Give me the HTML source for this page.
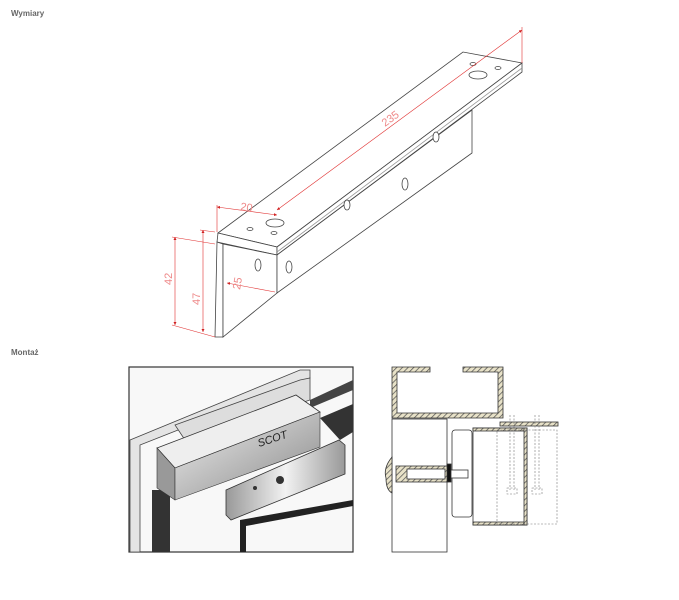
<!DOCTYPE html>
<html><head><meta charset="utf-8"><style>
body{margin:0;background:#fff;width:679px;height:600px;overflow:hidden}
.l{position:absolute;font:bold 8px "Liberation Sans",sans-serif;color:#666}
svg{position:absolute;left:0;top:0}
</style></head><body>
<div class="l" style="left:11px;top:9px">Wymiary</div>
<div class="l" style="left:11px;top:348px">Montaż</div>
<svg width="679" height="600" viewBox="0 0 679 600">
<defs>
<pattern id="h" width="4" height="4" patternUnits="userSpaceOnUse" patternTransform="rotate(45)">
<rect width="4" height="4" fill="#e8e2c8"/><line x1="0" y1="0" x2="0" y2="4" stroke="#555" stroke-width="1.5"/></pattern>
<linearGradient id="g1" x1="0" y1="0" x2="1" y2="1"><stop offset="0" stop-color="#eee"/><stop offset="0.5" stop-color="#bbb"/><stop offset="1" stop-color="#888"/></linearGradient>
<linearGradient id="g2" x1="0" y1="0" x2="1" y2="0"><stop offset="0" stop-color="#999"/><stop offset="0.5" stop-color="#f2f2f2"/><stop offset="1" stop-color="#999"/></linearGradient>
<marker id="a" viewBox="0 0 6 6" refX="6" refY="3" markerWidth="5" markerHeight="5" orient="auto-start-reverse"><path d="M0,0 L6,3 L0,6 Z" fill="#d02020"/></marker>
</defs>
<g fill="#fff" stroke="#444" stroke-width="0.8">
<polygon points="218,233 463,52 522,63 277,247"/>
<polygon points="218,233 277,247 277,255 217,242"/>
<polygon points="277,247 522,63 522,72 277,255"/>
<polygon points="217,242 223,244 223,337 215,337"/>
<polygon points="223,244 277,255 277,293 223,337"/>
<polygon points="277,255 472,110 472,153 277,293"/>
<line x1="277" y1="252" x2="522" y2="68" stroke="#999"/>
<ellipse cx="275" cy="223" rx="9" ry="4"/><ellipse cx="478" cy="75" rx="9" ry="4"/>
<ellipse cx="250" cy="229" rx="3" ry="1.5"/><ellipse cx="274" cy="233" rx="3" ry="1.5"/>
<ellipse cx="473" cy="64" rx="3" ry="1.5"/><ellipse cx="498" cy="68" rx="3" ry="1.5"/>
<ellipse cx="258" cy="265" rx="3" ry="6"/><ellipse cx="289" cy="267" rx="3" ry="6"/>
<ellipse cx="347" cy="205" rx="3" ry="5"/><ellipse cx="405" cy="184" rx="3" ry="6"/><ellipse cx="436" cy="137" rx="3" ry="5"/>
</g>
<g stroke="#e03030" stroke-width="0.6" fill="none">
<line x1="277" y1="210" x2="522" y2="30" marker-start="url(#a)" marker-end="url(#a)"/><line x1="522" y1="27" x2="522" y2="63"/>
<line x1="217" y1="207" x2="277" y2="215" marker-start="url(#a)" marker-end="url(#a)"/><line x1="217" y1="205" x2="217" y2="232"/>
<line x1="227" y1="283" x2="275" y2="292" marker-start="url(#a)"/>
<line x1="175" y1="237" x2="175" y2="325" marker-start="url(#a)" marker-end="url(#a)"/><line x1="203" y1="230" x2="203" y2="332" marker-start="url(#a)" marker-end="url(#a)"/>
<line x1="172" y1="237" x2="215" y2="244"/><line x1="172" y1="325" x2="215" y2="337"/>
<line x1="200" y1="230" x2="215" y2="232"/>
</g>
<g font-family="Liberation Sans,sans-serif" font-size="11" fill="#e88">
<text x="385" y="127" transform="rotate(-36 385 127)">235</text>
<text x="240" y="210" transform="rotate(8 240 210)">20</text>
<text x="240" y="290" transform="rotate(-80 240 290)">25</text>
<text x="172" y="285" transform="rotate(-90 172 285)">42</text>
<text x="200" y="305" transform="rotate(-90 200 305)">47</text>
</g>
<!-- photo -->
<rect x="129" y="367" width="224" height="185" fill="#f8f8f8" stroke="#333" stroke-width="1.2"/>
<polygon points="130,440 300,370 310,370 310,378 140,445 140,552 130,552" fill="#e4e4e4" stroke="#444" stroke-width="0.8"/>
<rect x="152" y="490" width="18" height="62" fill="#333"/>
<polygon points="310,400 353,380 353,390 310,408" fill="#444"/>
<polygon points="320,418 353,404 353,432 340,440" fill="#333"/>
<polygon points="240,552 240,520 353,500 353,506 246,526 246,552" fill="#222"/>
<polygon points="175,425 300,380 310,378 310,400 185,440" fill="#ddd" stroke="#444" stroke-width="0.8"/>
<polygon points="157,448 296,395 320,412 175,468" fill="#eee" stroke="#333" stroke-width="0.8"/>
<polygon points="157,448 175,468 175,500 157,488" fill="#999" stroke="#333" stroke-width="0.6"/>
<polygon points="175,468 320,412 320,447 175,500" fill="url(#g1)" stroke="#333" stroke-width="0.6"/>
<polygon points="226,490 339,440 345,445 345,474 231,520 226,515" fill="url(#g2)" stroke="#333" stroke-width="0.8"/>
<text x="259" y="447" font-family="Liberation Sans,sans-serif" font-size="11" font-style="italic" fill="#222" transform="rotate(-18 259 447)">SCOT</text>
<circle cx="280" cy="480" r="4" fill="#333"/><circle cx="255" cy="488" r="2" fill="#333"/>
<!-- section drawing -->
<g stroke="#333" stroke-width="0.8">
<path d="M392,367 H430 V372 H397 V413 H498 V372 H463 V367 H503 V418 H392 Z" fill="url(#h)"/>
<rect x="392" y="419" width="55" height="133" fill="#fff"/>
<rect x="452" y="430" width="20" height="87" rx="3" fill="#fff"/>
<rect x="473" y="428" width="54" height="97" fill="#fff"/>
<rect x="473" y="428" width="54" height="3" fill="url(#h)"/><rect x="473" y="522" width="54" height="3" fill="url(#h)"/>
<rect x="524" y="428" width="3" height="97" fill="url(#h)"/>
<rect x="500" y="422" width="58" height="4" fill="url(#h)"/>
<rect x="396" y="466" width="52" height="16" fill="url(#h)"/>
<rect x="407" y="469" width="38" height="10" fill="#fff"/>
<path d="M392,457 Q383,468 386,478 Q386,490 392,493 Z" fill="url(#h)"/>
<rect x="448" y="470" width="20" height="8" fill="#fff"/><rect x="447" y="464" width="4" height="18" fill="#111"/>
</g>
<g stroke="#777" stroke-width="0.6" stroke-dasharray="2,1.5" fill="none">
<rect x="497" y="430" width="60" height="94"/><line x1="510" y1="415" x2="510" y2="490"/><line x1="514" y1="415" x2="514" y2="490"/>
<line x1="535" y1="415" x2="535" y2="490"/><line x1="539" y1="415" x2="539" y2="490"/>
<rect x="507" y="488" width="10" height="6"/><rect x="532" y="488" width="10" height="6"/>
</g>
</svg>
</body></html>
